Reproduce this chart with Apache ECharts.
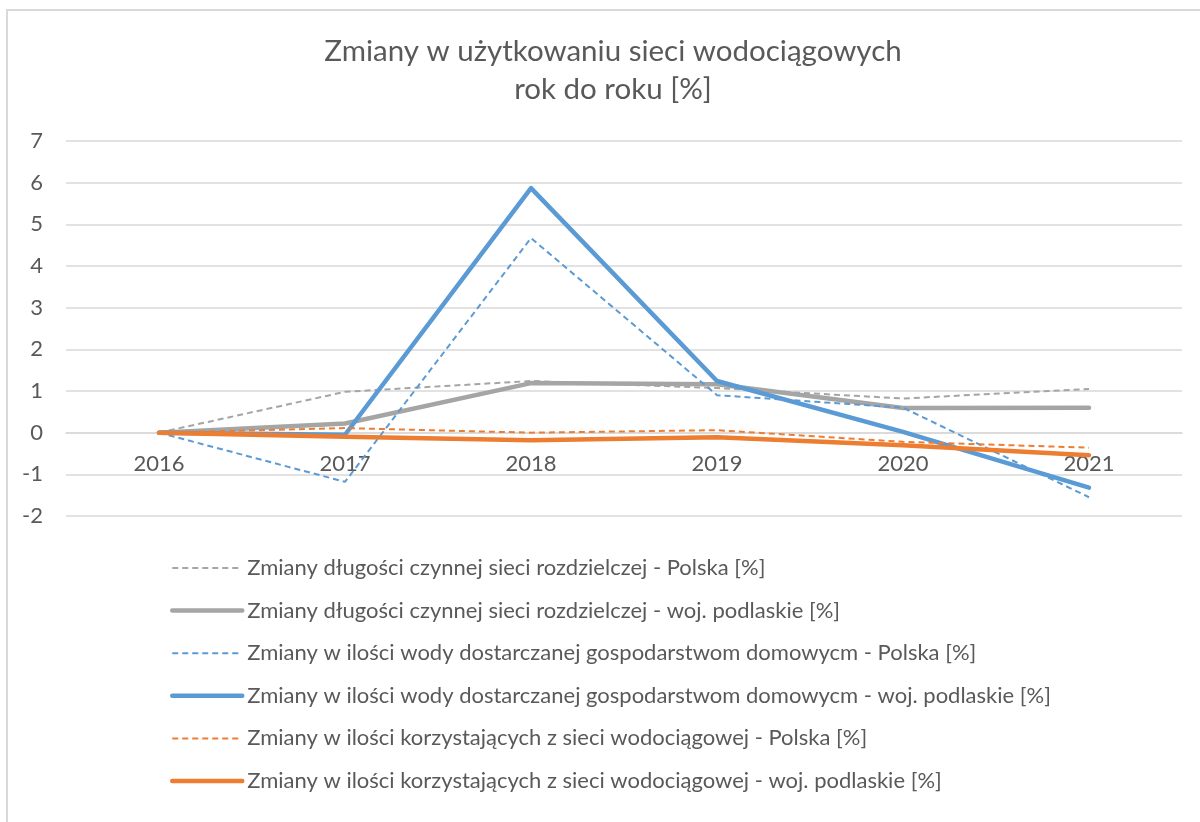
<!DOCTYPE html>
<html>
<head>
<meta charset="utf-8">
<script src="https://cdn.jsdelivr.net/npm/echarts@6/dist/echarts.min.js"></script>
<style>
  html, body { margin: 0; padding: 0; background: #fff; }
  #chart { width: 1200px; height: 822px; }
</style>
</head>
<body>
<div id="chart"></div>
<script>
// lata
const years = ['2016', '2017', '2018', '2019', '2020', '2021']
// długość czynnej sieci rozdzielczej
const dlugoscPolska = [0, 0.98, 1.24, 1.07, 0.82, 1.05]
const dlugoscPodlaskie = [0, 0.22, 1.19, 1.16, 0.59, 0.60]
// woda dostarczana gospodarstwom domowym
const wodaPolska = [0, -1.18, 4.67, 0.90, 0.60, -1.55]
const wodaPodlaskie = [0, -0.05, 5.87, 1.24, 0.02, -1.32]
// korzystający z sieci wodociągowej
const korzystPolska = [0, 0.11, 0.00, 0.06, -0.22, -0.36]
const korzystPodlaskie = [0, -0.10, -0.18, -0.11, -0.30, -0.54]

const names = [
    'Zmiany długości czynnej sieci rozdzielczej - Polska [%]',
    'Zmiany długości czynnej sieci rozdzielczej - woj. podlaskie [%]',
    'Zmiany w ilości wody dostarczanej gospodarstwom domowycm - Polska [%]',
    'Zmiany w ilości wody dostarczanej gospodarstwom domowycm - woj. podlaskie [%]',
    'Zmiany w ilości korzystających z sieci wodociągowej - Polska [%]',
    'Zmiany w ilości korzystających z sieci wodociągowej - woj. podlaskie [%]'
]

const font = 'Lato'
const grey = '#A5A5A5', blue = '#5B9BD5', orange = '#ED7D31'
const yMin = -2, yMax = 7
const gridTop = 141, gridBottom = 306, chartH = 822

// dashed = dane dla Polski, thick = woj. podlaskie
const styleOf = (color, dashed) => dashed
    ? { width: 2, type: [6, 4], color: color, cap: 'butt' }
    : { width: 4.5, type: 'solid', color: color, cap: 'round', join: 'round' }

const mkLine = (name, data, color, dashed) => ({
    name: name,
    type: 'line',
    data: data,
    symbol: 'none',
    color: color,
    lineStyle: styleOf(color, dashed),
    animation: false
})

const seriesDefs = [
    [dlugoscPolska, grey, true],
    [dlugoscPodlaskie, grey, false],
    [wodaPolska, blue, true],
    [wodaPodlaskie, blue, false],
    [korzystPolska, orange, true],
    [korzystPodlaskie, orange, false]
]

// oś X ma leżeć na zerze
const plotH = chartH - gridTop - gridBottom
const xAxisOffset = -(0 - yMin) / (yMax - yMin) * plotH

const myChart = echarts.init(document.getElementById('chart'))
const option = {
    animation: false,
    textStyle: { fontFamily: font },
    title: {
        text: 'Zmiany w użytkowaniu sieci wodociągowych\nrok do roku [%]',
        left: 608,
        top: 27,
        textAlign: 'center',
        textStyle: {
            fontFamily: font,
            fontWeight: 'normal',
            fontSize: 29.5,
            lineHeight: 38,
            color: '#595959'
        }
    },
    legend: {
        orient: 'vertical',
        left: 165,
        top: 552,
        itemWidth: 70,
        itemHeight: 24,
        itemGap: 20.6,
        textStyle: { fontFamily: font, fontSize: 22, color: '#595959' },
        data: names.map((n, i) => ({
            name: n,
            itemStyle: { opacity: 0 },
            lineStyle: styleOf(seriesDefs[i][1], seriesDefs[i][2])
        }))
    },
    grid: { left: 66, right: 18, top: gridTop, bottom: gridBottom },
    xAxis: {
        type: 'category',
        data: years,
        boundaryGap: true,
        offset: xAxisOffset,
        axisLine: { onZero: false, lineStyle: { color: '#d9d9d9', width: 1.5 } },
        axisTick: { show: false },
        axisLabel: { color: '#595959', fontSize: 22, fontFamily: font, margin: 20 }
    },
    yAxis: {
        type: 'value',
        min: yMin,
        max: yMax,
        interval: 1,
        axisLine: { show: false },
        axisTick: { show: false },
        splitLine: { lineStyle: { color: '#d9d9d9', width: 1.5 } },
        axisLabel: { color: '#595959', fontSize: 22, fontFamily: font, margin: 23 }
    },
    graphic: [{
        type: 'rect',
        shape: { x: 7, y: 10, width: 1400, height: 1000 },
        style: { fill: 'none', stroke: '#d9d9d9', lineWidth: 2 },
        silent: true
    }],
    series: seriesDefs.map((d, i) => mkLine(names[i], d[0], d[1], d[2]))
}
myChart.setOption(option)
</script>
</body>
</html>
